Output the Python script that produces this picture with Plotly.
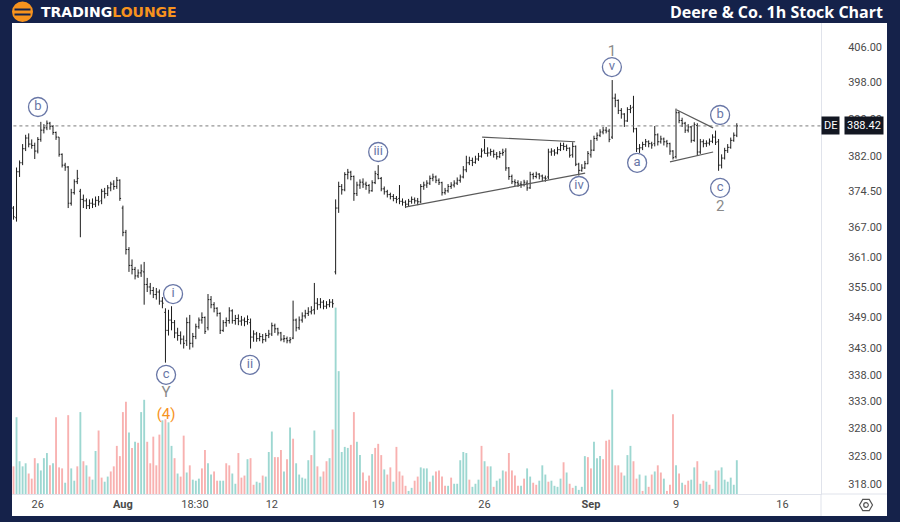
import numpy as np
import plotly.graph_objects as go

# ---------------- data (hourly bars, Jul 24 15:30 .. Sep 11 15:30) ----------------
opens = [
    371.0, 369.0, 378.6, 380.5, 383.5, 385.8, 384.5, 384.2, 383.0, 385.5,
    387.5, 388.0, 389.0, 388.3, 387.0, 386.0, 382.3, 380.0, 379.6, 372.0,
    374.2, 376.5, 374.5, 372.8, 372.5, 371.5, 372.0, 371.8, 372.6, 372.5,
    374.5, 374.0, 375.2, 376.0, 375.5, 376.8, 371.0, 366.0, 362.5, 359.3,
    358.5, 357.2, 357.8, 358.0, 355.5, 355.0, 354.3, 353.5, 354.0, 352.2,
    350.0, 346.5, 348.5, 348.0, 346.0, 345.5, 344.8, 344.5, 348.0, 344.0,
    345.3, 347.2, 348.5, 349.0, 347.0, 352.5, 351.5, 350.8, 349.8, 346.5,
    348.0, 348.4, 350.3, 348.4, 348.8, 348.3, 348.5, 348.2, 348.0, 345.2,
    345.8, 344.9, 345.3, 344.7, 345.5, 345.8, 347.4, 346.8, 346.0, 344.8,
    344.9, 344.5, 345.0, 348.5, 347.0, 348.5, 349.3, 349.8, 350.1, 350.5,
    351.8, 351.5, 352.0, 351.2, 351.5, 352.0, 358.0, 371.0, 375.5, 374.8,
    378.0, 378.5, 377.6, 374.0, 375.8, 376.4, 376.0, 375.7, 374.6, 376.3,
    378.0, 377.2, 375.0, 374.4, 373.8, 373.4, 373.0, 373.0, 372.4, 372.2,
    371.8, 372.4, 372.8, 372.5, 372.3, 375.5, 375.8, 376.2, 377.2, 377.5,
    376.8, 376.3, 374.2, 374.6, 375.5, 375.8, 376.2, 376.8, 377.5, 379.0,
    380.5, 381.0, 380.6, 381.3, 381.9, 383.2, 382.5, 382.6, 382.9, 382.3,
    381.8, 382.5, 383.0, 379.4, 377.6, 376.5, 376.3, 376.0, 375.9, 376.2,
    375.2, 378.0, 377.6, 378.1, 377.7, 377.3, 377.5, 382.8, 383.0, 382.6,
    383.3, 384.2, 384.0, 383.6, 382.2, 384.0, 380.2, 378.9, 379.4, 380.3,
    382.2, 383.2, 385.7, 386.4, 387.1, 387.5, 387.3, 386.0, 394.5, 394.0,
    391.8, 391.0, 389.5, 392.0, 392.5, 387.8, 383.5, 383.7, 384.4, 385.0,
    384.6, 384.6, 386.5, 385.0, 385.6, 385.0, 384.6, 383.0, 381.8, 391.3,
    389.6, 389.0, 387.5, 388.2, 385.3, 388.5, 382.8, 385.0, 384.6, 384.7,
    385.1, 386.0, 385.0, 380.0, 381.5, 383.1, 383.8, 385.3, 386.4,
]
highs = [
    371.4, 379.5, 381.0, 384.5, 386.5, 386.8, 385.5, 384.8, 386.0, 389.3,
    388.8, 389.6, 389.3, 388.6, 387.2, 386.0, 382.5, 380.5, 379.8, 375.0,
    377.0, 379.0, 375.0, 373.8, 373.0, 372.8, 373.0, 373.4, 373.5, 375.0,
    375.2, 375.8, 376.5, 376.8, 377.5, 377.0, 371.5, 366.5, 363.0, 360.5,
    359.0, 358.5, 359.5, 360.0, 356.8, 355.8, 355.0, 354.8, 354.5, 353.0,
    350.8, 350.5, 351.2, 348.5, 347.0, 346.3, 345.5, 349.0, 349.5, 346.0,
    347.8, 349.0, 350.0, 349.2, 353.6, 353.2, 352.0, 351.0, 350.0, 348.5,
    349.0, 351.0, 350.6, 349.5, 349.6, 349.3, 349.0, 349.4, 348.8, 346.5,
    346.2, 346.0, 345.8, 346.0, 346.6, 348.0, 347.8, 347.0, 346.2, 345.6,
    345.3, 345.2, 352.3, 348.8, 349.2, 350.0, 350.5, 351.0, 351.2, 355.8,
    352.8, 352.8, 352.4, 352.2, 352.6, 352.6, 372.8, 376.5, 376.0, 378.5,
    379.2, 378.8, 377.8, 376.5, 377.0, 377.2, 376.5, 376.0, 376.8, 378.8,
    380.0, 377.5, 375.5, 374.8, 374.2, 373.9, 373.5, 375.8, 373.0, 372.6,
    372.9, 373.4, 373.2, 373.1, 376.0, 376.5, 376.8, 377.8, 378.2, 377.8,
    377.2, 376.5, 375.2, 376.0, 376.4, 376.8, 377.4, 378.0, 379.8, 382.0,
    381.8, 381.6, 382.0, 382.6, 383.6, 385.6, 383.8, 383.5, 383.3, 382.8,
    383.0, 383.5, 383.6, 379.6, 378.0, 377.0, 376.8, 376.6, 376.9, 376.8,
    378.6, 378.4, 378.6, 378.3, 378.0, 377.8, 383.5, 383.6, 383.4, 383.9,
    384.8, 384.8, 384.4, 383.8, 384.9, 384.2, 380.5, 380.2, 380.9, 383.0,
    385.4, 386.3, 387.0, 387.7, 388.2, 388.2, 387.8, 398.5, 395.5, 394.2,
    392.3, 391.2, 392.5, 393.0, 395.0, 388.0, 384.5, 385.0, 385.6, 385.3,
    385.0, 388.4, 386.8, 386.3, 385.9, 385.4, 384.8, 383.2, 392.2, 391.6,
    390.2, 389.3, 388.8, 388.4, 389.2, 389.0, 385.6, 385.5, 385.3, 385.7,
    386.6, 387.4, 385.6, 382.3, 383.7, 384.5, 385.9, 387.0, 389.0,
]
lows = [
    368.6, 368.2, 377.5, 380.0, 383.0, 383.8, 383.5, 381.3, 382.5, 385.0,
    386.8, 387.5, 387.6, 386.5, 385.4, 381.8, 379.5, 378.8, 371.0, 371.5,
    373.8, 376.0, 365.0, 371.0, 370.8, 370.8, 371.0, 371.2, 371.5, 371.8,
    373.0, 373.5, 374.5, 374.8, 375.0, 372.5, 365.2, 361.5, 358.0, 357.5,
    356.5, 356.8, 357.0, 351.5, 354.0, 353.5, 352.8, 352.5, 351.5, 350.8,
    340.3, 345.5, 346.5, 345.0, 344.5, 343.8, 343.0, 343.5, 342.8, 343.2,
    344.8, 346.8, 347.8, 345.8, 346.5, 350.8, 350.0, 349.2, 345.8, 346.2,
    347.2, 347.8, 347.8, 347.6, 347.5, 347.4, 347.3, 347.6, 343.0, 344.3,
    344.3, 344.4, 344.0, 344.3, 345.0, 345.4, 346.0, 345.5, 344.4, 344.2,
    344.0, 344.0, 344.8, 346.3, 346.6, 348.0, 348.8, 349.3, 349.6, 349.6,
    350.5, 350.8, 350.6, 350.7, 351.0, 350.9, 357.5, 370.0, 373.8, 374.5,
    377.0, 376.8, 372.5, 373.5, 375.0, 375.2, 374.8, 374.0, 374.4, 376.0,
    377.0, 374.5, 373.8, 373.2, 372.8, 372.4, 372.0, 371.8, 371.5, 371.0,
    371.3, 371.9, 371.9, 371.6, 372.0, 374.8, 375.2, 375.8, 376.6, 376.2,
    375.8, 373.6, 373.8, 374.2, 375.0, 375.3, 375.8, 376.3, 377.2, 378.5,
    380.0, 379.8, 380.3, 380.9, 381.6, 382.5, 381.8, 382.0, 381.6, 381.2,
    381.5, 382.0, 378.8, 376.9, 376.0, 375.6, 375.4, 375.2, 375.5, 374.6,
    375.0, 377.0, 377.2, 377.0, 376.6, 376.5, 377.0, 382.0, 382.0, 382.3,
    383.0, 383.2, 383.0, 381.6, 381.6, 379.8, 377.8, 378.6, 379.2, 380.2,
    381.6, 383.0, 385.2, 386.0, 386.6, 386.8, 384.9, 385.6, 392.5, 391.0,
    390.0, 388.2, 389.3, 391.2, 387.0, 382.8, 382.6, 383.2, 383.9, 383.8,
    383.5, 384.0, 384.2, 384.6, 384.2, 383.8, 382.2, 381.2, 381.4, 389.0,
    388.2, 386.9, 387.0, 384.8, 385.0, 382.0, 382.4, 383.8, 383.9, 384.2,
    384.7, 384.3, 378.8, 379.3, 381.2, 382.6, 383.5, 385.0, 386.0,
]
closes = [
    369.2, 378.6, 380.5, 383.5, 385.8, 384.5, 384.2, 383.0, 385.5, 387.5,
    388.0, 389.0, 388.3, 387.0, 386.0, 382.3, 380.0, 379.6, 372.0, 374.2,
    376.5, 377.2, 372.8, 372.5, 371.5, 372.0, 371.8, 372.6, 372.3, 374.5,
    374.0, 375.2, 376.0, 375.5, 376.8, 373.0, 366.0, 362.5, 359.3, 358.5,
    357.2, 357.8, 358.2, 355.5, 355.0, 354.3, 353.5, 354.0, 352.2, 351.8,
    346.5, 348.5, 348.0, 346.0, 345.5, 344.8, 344.0, 348.0, 344.0, 345.3,
    347.2, 348.5, 349.0, 346.3, 352.5, 351.5, 350.8, 349.8, 346.5, 348.0,
    348.4, 350.3, 348.4, 348.8, 348.3, 348.5, 348.2, 348.6, 345.2, 345.8,
    344.9, 345.3, 344.7, 345.5, 345.8, 347.4, 346.8, 346.0, 344.8, 344.9,
    344.5, 344.7, 348.5, 347.0, 348.5, 349.3, 349.8, 350.1, 350.4, 351.8,
    351.5, 352.0, 351.2, 351.5, 352.0, 351.7, 371.0, 375.5, 374.8, 378.0,
    378.5, 377.6, 374.0, 375.8, 376.4, 376.0, 375.7, 374.6, 376.3, 378.2,
    377.2, 375.0, 374.4, 373.8, 373.4, 373.0, 372.8, 372.4, 372.2, 371.8,
    372.4, 372.8, 372.5, 372.3, 375.5, 375.8, 376.2, 377.2, 377.5, 376.8,
    376.3, 374.2, 374.6, 375.5, 375.8, 376.2, 376.8, 377.5, 379.0, 380.5,
    381.0, 380.6, 381.3, 381.9, 383.0, 382.5, 382.6, 382.9, 382.3, 381.8,
    382.5, 382.7, 379.4, 377.6, 376.5, 376.3, 376.0, 375.9, 376.4, 375.2,
    378.0, 377.6, 378.1, 377.7, 377.3, 377.2, 382.8, 383.0, 382.6, 383.3,
    384.2, 384.0, 383.6, 382.1, 384.0, 380.2, 378.9, 379.4, 380.3, 382.5,
    383.2, 385.7, 386.4, 387.1, 387.5, 387.3, 385.5, 394.5, 394.0, 391.8,
    391.0, 389.5, 392.0, 392.3, 387.8, 383.5, 383.7, 384.4, 385.0, 384.6,
    384.3, 386.5, 385.0, 385.6, 385.0, 384.6, 383.0, 381.6, 391.3, 389.6,
    389.0, 387.5, 388.2, 385.3, 388.7, 382.8, 385.0, 384.6, 384.7, 385.1,
    386.0, 384.9, 380.0, 381.5, 383.1, 383.8, 385.3, 386.4, 388.42,
]
# volume (arbitrary units, ~10k shares)
volumes = [
    27, 75, 32, 27, 30, 20, 15, 35, 30, 23,
    35, 40, 28, 30, 75, 26, 25, 11, 77, 25,
    13, 27, 80, 32, 28, 17, 14, 42, 62, 16,
    12, 17, 22, 27, 47, 37, 80, 90, 60, 45,
    51, 50, 80, 92, 51, 30, 56, 28, 58, 72,
    73, 70, 47, 35, 20, 17, 57, 21, 28, 14,
    13, 15, 25, 43, 30, 19, 22, 13, 13, 13,
    30, 28, 20, 10, 40, 16, 18, 34, 35, 9,
    12, 11, 18, 17, 41, 61, 36, 36, 43, 22,
    34, 65, 54, 30, 19, 16, 15, 33, 38, 62,
    27, 17, 22, 32, 35, 63, 182, 120, 41, 46,
    45, 48, 80, 51, 38, 21, 13, 18, 39, 45,
    49, 38, 24, 19, 26, 12, 46, 22, 18, 8,
    3, 6, 13, 17, 26, 25, 25, 12, 18, 22,
    23, 17, 8, 8, 16, 10, 10, 33, 41, 40,
    14, 7, 10, 14, 47, 32, 27, 27, 7, 13,
    15, 23, 22, 40, 23, 18, 8, 8, 15, 25,
    17, 11, 9, 13, 28, 19, 12, 13, 8, 7,
    15, 31, 21, 10, 6, 8, 4, 7, 37, 36,
    25, 51, 35, 37, 34, 52, 53, 102, 28, 28,
    21, 18, 38, 47, 32, 15, 19, 3, 18, 7,
    19, 22, 28, 21, 15, 3, 9, 78, 28, 20,
    11, 9, 13, 14, 26, 32, 10, 13, 12, 9,
    5, 23, 23, 26, 14, 12, 16, 9, 33,
]
# volume bar direction as drawn (T = up/teal, R = down/red)
vol_dir = list(
    "RTTTTRRRTT" "TTRTRRRTRT" "TRTRTRTTRR" "TTRRRRRRTR" "TRTTRRRRRT"
    "RTTRTRRTRT" "TTRRTTRRTT" "RRTTRRRTRR" "TTRTTTRRRT" "RTRTTTTTRT"
    "RTRRTRTTTT" "TRRTTRRRTR" "RRTRRTRRRR" "TTRRTTTRTR" "RRRTRTTTTT"
    "RTTTRTRTRT" "TTRRRRRTRT" "TRRTTTRTTT" "TRTRRTTTTR" "RTTTRRRTRR"
    "RTTTRRTRTR" "RTRRTRRRTR" "TRRTTRTRTR" "TTRTTTTTT"
)

price_ticks = [318, 323, 328, 333, 338, 343, 349, 355, 361, 367, 374.5, 382, 390, 398, 406]
x_tick_pos = [8, 36, 59.7, 85, 120, 155, 190, 218, 253]
x_tick_text = ["26", "<b>Aug</b>", "18:30", "12", "19", "26", "<b>Sep</b>", "9", "16"]

# Elliott wave labels (bar position, price)
wave_text = ["b", "i", "c", "ii", "iii", "iv", "v", "a", "b", "c"]
wave_x = [8.06, 52.5, 50.2, 77.8, 120.0, 186.1, 196.9, 205.2, 232.5, 232.5]
wave_y = [392.55, 353.6, 338.0, 339.9, 382.8, 375.6, 401.4, 380.5, 390.8, 375.2]
degree_text = ["Y", "1", "2"]
degree_x = [50.2, 196.9, 232.5]
degree_y = [334.6, 404.8, 371.2]
orange_text = ["(4)"]
orange_x = [50.2]
orange_y = [330.5]

# trend lines (x0, y0, x1, y1)
trend_lines = [
    (128.8, 371.2, 188.1, 378.3),
    (154.2, 386.0, 184.8, 385.0),
    (218.3, 391.9, 230.2, 388.0),
    (216.0, 380.7, 230.2, 382.8),
]

# ---------------- figure ----------------
L_PX, R_PX, T_PX, B_PX = 12, 821, 23, 494


def pxx(px):
    return (px - L_PX) / (R_PX - L_PX)


def pxy(py):
    return (B_PX - py) / (B_PX - T_PX)


n = len(closes)
xi = list(range(n))
vol_colors = ["rgba(38,166,154,0.45)" if d == "T" else "rgba(239,83,80,0.45)" for d in vol_dir]

fig = go.Figure()
fig.add_trace(go.Bar(x=xi, y=volumes, marker_color=vol_colors, marker_line_width=0,
                     width=0.62, yaxis="y", hoverinfo="skip"))
fig.add_trace(go.Ohlc(x=xi, open=opens, high=highs, low=lows, close=closes, yaxis="y2",
                      increasing=dict(line=dict(color="#1c1c1c", width=1)),
                      decreasing=dict(line=dict(color="#1c1c1c", width=1)),
                      tickwidth=0.4))

# last-price dotted line
fig.add_trace(go.Scatter(x=[-2, 270], y=[closes[-1], closes[-1]], mode="lines", yaxis="y2",
                         line=dict(color="#7a7a7a", width=1, dash="dot"), hoverinfo="skip"))

# trend lines
tlx, tly = [], []
for x0, y0, x1, y1 in trend_lines:
    tlx += [x0, x1, None]
    tly += [y0, y1, None]
fig.add_trace(go.Scatter(x=tlx, y=tly, mode="lines", yaxis="y2",
                         line=dict(color="#5a5a5a", width=1.2), hoverinfo="skip"))

wave_col = "#6876a6"
fig.add_trace(go.Scatter(x=wave_x, y=wave_y, mode="markers+text", yaxis="y2", text=wave_text,
                         textposition="middle center", cliponaxis=False,
                         marker=dict(symbol="circle", size=19, color="white",
                                     line=dict(color=wave_col, width=1.3)),
                         textfont=dict(family="Roboto", size=13, color=wave_col), hoverinfo="skip"))
fig.add_trace(go.Scatter(x=degree_x, y=degree_y, mode="text", yaxis="y2", text=degree_text,
                         textposition="middle center", cliponaxis=False,
                         textfont=dict(family="Roboto", size=15, color="#8a8a8a"), hoverinfo="skip"))
fig.add_trace(go.Scatter(x=orange_x, y=orange_y, mode="text", yaxis="y2", text=orange_text,
                         textposition="middle center", cliponaxis=False,
                         textfont=dict(family="Roboto", size=15, color="#f7931e"), hoverinfo="skip"))

axis_font = dict(family="Roboto", size=11, color="#4a4a4a")
fig.update_layout(
    width=900, height=522,
    margin=dict(l=L_PX, r=900 - R_PX, t=T_PX, b=522 - B_PX),
    paper_bgcolor="#15224a", plot_bgcolor="white", showlegend=False,
    xaxis=dict(range=[-0.49, 265.7], tickvals=x_tick_pos, ticktext=x_tick_text,
               showgrid=False, zeroline=False, showline=True, linecolor="#e0e3eb",
               ticks="", tickfont=axis_font, rangeslider=dict(visible=False), fixedrange=True),
    yaxis=dict(range=[0, 460], visible=False, fixedrange=True),
    yaxis2=dict(type="log", overlaying="y", side="right", range=[2.5, 2.61427],
                tickvals=price_ticks, ticktext=[f"{v:.2f}" for v in price_ticks],
                showgrid=False, zeroline=False, showline=True, linecolor="#e0e3eb",
                ticks="", tickfont=axis_font, ticklabelstandoff=24, fixedrange=True),
)

shapes = [
    # white panel
    dict(type="rect", xref="paper", yref="paper", x0=pxx(12), x1=pxx(887), y0=pxy(516), y1=pxy(23),
         fillcolor="white", line=dict(width=0), layer="below"),
    # separators
    dict(type="line", xref="paper", yref="paper", x0=pxx(821), x1=pxx(887), y0=pxy(494), y1=pxy(494),
         line=dict(color="#e0e3eb", width=1)),
    dict(type="line", xref="paper", yref="paper", x0=pxx(821), x1=pxx(821), y0=pxy(494), y1=pxy(516),
         line=dict(color="#e0e3eb", width=1)),
    # logo circle
    dict(type="circle", xref="paper", yref="paper", x0=pxx(12), x1=pxx(33), y0=pxy(22), y1=pxy(1.5),
         fillcolor="#f7931e", line=dict(width=0)),
    dict(type="line", xref="paper", yref="paper", x0=pxx(14.5), x1=pxx(30.5), y0=pxy(9.5), y1=pxy(9.5),
         line=dict(color="#15224a", width=2)),
    dict(type="line", xref="paper", yref="paper", x0=pxx(14.5), x1=pxx(30.5), y0=pxy(14.5), y1=pxy(14.5),
         line=dict(color="#15224a", width=2)),
]
# gear icon (hexagon + circle)
gx, gy, gr = 866, 505, 6.5
hexpts = [(gx + gr * np.cos(np.pi / 3 * k), gy + gr * np.sin(np.pi / 3 * k)) for k in range(6)]
path = "M " + " L ".join(f"{pxx(a):.5f},{pxy(b):.5f}" for a, b in hexpts) + " Z"
shapes.append(dict(type="path", xref="paper", yref="paper", path=path,
                   line=dict(color="#555", width=1.2)))
shapes.append(dict(type="circle", xref="paper", yref="paper", x0=pxx(gx - 2.3), x1=pxx(gx + 2.3),
                   y0=pxy(gy + 2.3), y1=pxy(gy - 2.3), line=dict(color="#555", width=1.2)))
fig.update_layout(shapes=shapes)

last = closes[-1]
annotations = [
    dict(xref="paper", yref="paper", x=pxx(885), y=pxy(12), xanchor="right", yanchor="middle",
         text="<b>Deere & Co. 1h Stock Chart</b>", showarrow=False,
         font=dict(family="Open Sans", size=16, color="white")),
    dict(xref="paper", yref="paper", x=pxx(39), y=pxy(12.5), xanchor="left", yanchor="middle",
         text="<b>TRADING</b><b><span style='color:#f7931e'>LOUNGE</span></b>", showarrow=False,
         font=dict(family="DejaVu Sans", size=14, color="white")),
    dict(xref="paper", yref="y2", x=pxx(830), y=np.log10(last), xanchor="center", yanchor="middle",
         text="DE", showarrow=False, bgcolor="#131722", borderpad=2,
         font=dict(family="Roboto", size=11, color="white")),
    dict(xref="paper", yref="y2", x=pxx(864), y=np.log10(last), xanchor="center", yanchor="middle",
         text=f"{last:.2f}", showarrow=False, bgcolor="#131722", borderpad=2,
         font=dict(family="Roboto", size=11, color="white")),
]
fig.update_layout(annotations=annotations)

fig.write_html("out.html", config={"displayModeBar": False},
               post_script="document.body.style.margin='0';document.body.style.overflow='hidden';")
